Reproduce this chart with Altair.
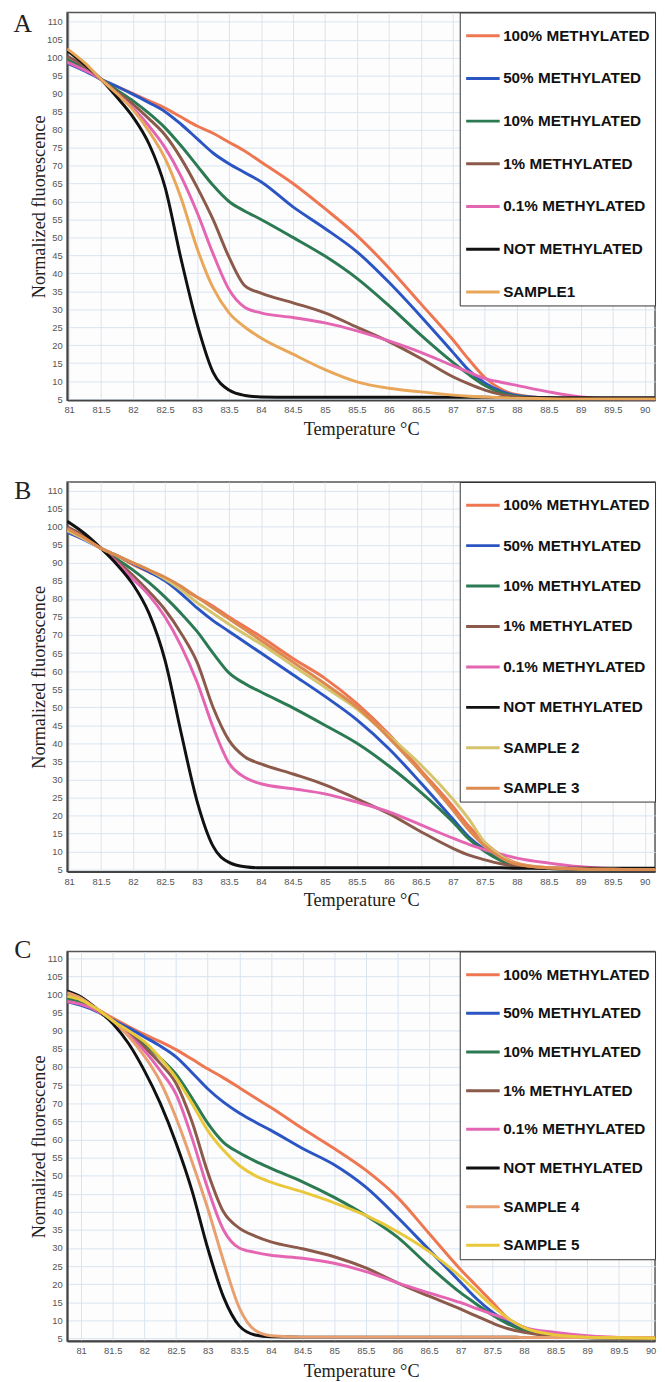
import altair as alt
import pandas as pd

# ---------------- data ----------------
X_AB = [80.97, 81.25, 81.5, 81.75, 82, 82.25, 82.5, 82.75, 83, 83.25, 83.5, 83.75, 84,
        84.5, 85, 85.5, 86, 86.5, 87, 87.25, 87.5, 87.75, 88, 88.5, 89, 89.5, 90, 90.16]
X_C = [80.78, 81, 81.25, 81.5, 81.75, 82, 82.25, 82.5, 82.75, 83, 83.25, 83.5, 83.75, 84,
       84.5, 85, 85.5, 86, 86.5, 87, 87.25, 87.5, 87.75, 88, 88.5, 89, 89.5, 90, 90.07]

X_TICKS = [81, 81.5, 82, 82.5, 83, 83.5, 84, 84.5, 85, 85.5, 86, 86.5, 87, 87.5, 88, 88.5, 89, 89.5, 90]
Y_TICKS = [5, 10, 15, 20, 25, 30, 35, 40, 45, 50, 55, 60, 65, 70, 75, 80, 85, 90, 95, 100, 105, 110]

BASE_NAMES = ["100% METHYLATED", "50% METHYLATED", "10% METHYLATED", "1% METHYLATED",
              "0.1% METHYLATED", "NOT METHYLATED"]
BASE_COLORS = ["#ee7752", "#2c55c4", "#2c7a52", "#8c5a4a", "#e466b2", "#111111"]

# Panel A
A_100 = [99.5, 97, 94, 92, 90, 88, 86, 83.5, 81, 79, 76.5, 74, 71, 65, 58, 50.5, 41.5, 31.5, 21.5, 16, 11, 7.8, 6.2, 5.3, 5.1, 5, 5, 5]
A_50 = [98.5, 96.3, 94, 92, 89.8, 87.5, 85, 81.5, 77.5, 73.5, 70.5, 68, 65.5, 58.5, 52.5, 46, 37.5, 28, 18, 13, 9.5, 7.2, 6, 5.3, 5.1, 5, 5, 5]
A_10 = [99.5, 96.8, 94, 91, 88, 84.5, 80.5, 75.5, 70, 64.5, 60, 57.3, 55, 50, 44.8, 38.6, 31, 22.8, 15.2, 11.8, 8.8, 6.8, 5.7, 5.2, 5.1, 5, 5, 5]
A_1 = [100.5, 97.5, 94, 90.5, 87, 83, 78.5, 72, 64, 55, 44.5, 36.5, 34.5, 31.8, 29, 25, 21, 16.3, 11.2, 9.2, 7.5, 6.3, 5.6, 5.2, 5.1, 5, 5, 5]
A_01 = [98.8, 96.5, 94, 90, 86, 81, 75, 67, 57, 45.5, 35.5, 30.5, 29, 27.7, 26.2, 24, 21.2, 18, 14.3, 12.5, 10.7, 9.7, 8.8, 7, 5.6, 5.1, 5, 5]
A_0 = [102, 98, 94, 89, 83.5, 76, 64, 44, 26, 12.5, 7.5, 6, 5.6, 5.5, 5.5, 5.5, 5.5, 5.5, 5.5, 5.5, 5.5, 5.4, 5.4, 5.4, 5.4, 5.4, 5.4, 5.4]
A_S1 = [102.5, 98.5, 94, 90, 85.5, 79.5, 72, 61, 47, 36, 29, 25, 22, 17.5, 13.2, 9.8, 8, 7, 6.1, 5.8, 5.6, 5.4, 5.3, 5.1, 5, 5, 5, 5]

# Panel B
B_100 = [98.5, 96.5, 94, 92, 89.5, 87.5, 85.5, 83, 80.5, 78, 75, 72.3, 69.5, 63.5, 58, 51, 42.5, 32.5, 22.5, 17, 12.5, 9, 6.8, 5.5, 5.2, 5.1, 5, 5]
B_50 = [98.5, 96.3, 94, 92, 89.8, 87.5, 85, 81.5, 77.5, 74, 71, 68, 65, 59, 53, 46.5, 38.5, 29, 19, 14, 10.5, 8, 6.4, 5.4, 5.1, 5, 5, 5]
B_10 = [99.5, 96.8, 94, 91, 88, 84.5, 80.5, 76, 71, 65, 59.5, 56.5, 54.2, 49.8, 45, 40, 33.7, 26.4, 18.2, 13.5, 10, 7.5, 5.9, 5.3, 5.1, 5, 5, 5]
B_1 = [100, 97.3, 94, 90.5, 86.5, 82, 77, 70.5, 62.5, 50, 40.8, 36.2, 34.3, 31.5, 28.5, 24.6, 20.5, 15.5, 10.9, 9, 7.7, 6.6, 5.9, 5.3, 5.1, 5, 5, 5]
B_01 = [99, 96.5, 94, 90, 85.5, 81, 75, 67, 57, 44.5, 34.5, 30.5, 28.8, 27.4, 26, 23.7, 21, 17.4, 13.7, 12, 10.5, 9.3, 8.2, 6.8, 5.8, 5.3, 5.1, 5]
B_0 = [101.5, 98, 94, 89.5, 84, 76, 63, 43, 24, 11.5, 7, 5.8, 5.5, 5.5, 5.5, 5.5, 5.5, 5.5, 5.5, 5.5, 5.5, 5.5, 5.4, 5.4, 5.4, 5.4, 5.4, 5.4]
B_S2 = [99, 96.5, 94, 92, 90, 88, 85.5, 82.5, 79, 76, 73, 70.2, 67.5, 61.5, 55.5, 49.5, 42, 34, 24.5, 19, 12.5, 8.8, 6.6, 5.5, 5.2, 5.1, 5, 5]
B_S3 = [99.5, 96.8, 94, 92, 90, 88, 86, 83.5, 80.5, 77.5, 74.5, 71.5, 68.5, 62.5, 56.5, 50, 41.5, 32, 21.5, 16, 11.5, 8.3, 6.5, 5.5, 5.2, 5.1, 5, 5]

# Panel C
C_100 = [98.8, 98, 96, 93.5, 91.2, 89, 87, 84.8, 82.2, 79.5, 77, 74.3, 71.5, 68.8, 63, 57.5, 51.5, 44, 34, 24, 19.5, 15, 10.5, 8.1, 6.3, 5.6, 5.3, 5.2, 5.2]
C_50 = [98, 97, 95.3, 93, 90.8, 88.3, 85.8, 82.8, 78.5, 74, 70.3, 67.3, 64.8, 62.5, 57.5, 53, 46.8, 38.5, 29.5, 20.5, 16, 12.3, 9.5, 7.6, 6, 5.4, 5.2, 5.1, 5.1]
C_10 = [99, 98, 95.6, 92.5, 89.5, 86.3, 82.5, 78, 71.5, 64.5, 59.2, 56.3, 54, 52, 48.3, 44, 39, 33, 25, 17.6, 14.5, 11.5, 9, 7.2, 5.8, 5.3, 5.1, 5, 5]
C_1 = [99.5, 98.5, 96, 92.8, 89.3, 85.5, 81, 75.5, 65, 51, 40, 35.5, 33.3, 31.7, 29.8, 27.6, 24.5, 20.4, 16.7, 13.1, 11.2, 9.3, 7.7, 6.7, 5.6, 5.2, 5.1, 5, 5]
C_01 = [98, 97.3, 95.5, 92.5, 88.8, 84.5, 79, 72.5, 60.5, 46.5, 35, 30, 28.8, 28, 27.2, 25.8, 23.5, 20.4, 17.6, 14.9, 13.3, 11.7, 10.3, 8.1, 6.7, 5.8, 5.3, 5.2, 5.2]
C_0 = [101, 99.3, 96, 92, 86.5, 79, 70, 59, 46, 30, 16.5, 8.5, 6, 5.5, 5.4, 5.4, 5.4, 5.4, 5.4, 5.4, 5.4, 5.4, 5.4, 5.3, 5.3, 5.3, 5.3, 5.3, 5.3]
C_S4 = [100.5, 99, 96, 92.8, 88.5, 83, 76, 66, 54, 41, 26.5, 13.5, 7.3, 5.8, 5.4, 5.4, 5.4, 5.4, 5.4, 5.4, 5.4, 5.4, 5.4, 5.3, 5.3, 5.3, 5.3, 5.3, 5.3]
C_S5 = [99.5, 98.5, 96, 92.8, 90, 87, 82.5, 77, 70, 62.5, 57, 52.8, 50, 48.2, 45.5, 42.5, 39, 34.5, 29, 22, 18, 14, 10.5, 8, 6, 5.4, 5.2, 5.1, 5.1]

PANEL_LETTERS = ["A", "B", "C"]

SERIF = "Liberation Serif"
SANS = "Liberation Sans"
NARROW = "Liberation Sans Narrow, Liberation Sans, Arial, sans-serif"


def panel(letter, xs, names, series, colors, height, xdom, ydom, row_pad, letter_y, x_title_pad):
    rows = []
    for n, vals in zip(names, series):
        for x, v in zip(xs, vals):
            rows.append({"temp": x, "fluor": v, "series": n})
    df = pd.DataFrame(rows)
    lines = alt.Chart(df).mark_line(interpolate="monotone", strokeWidth=3, clip=True).encode(
        x=alt.X("temp:Q",
                scale=alt.Scale(domain=xdom, nice=False, zero=False),
                axis=alt.Axis(values=X_TICKS, format=".1~f", title="Temperature °C",
                              labelFlush=False, titlePadding=x_title_pad)),
        y=alt.Y("fluor:Q",
                scale=alt.Scale(domain=ydom, nice=False, zero=False),
                axis=alt.Axis(values=Y_TICKS, format="d", title="Normalized fluorescence",
                              labelFlush=False)),
        color=alt.Color("series:N",
                        scale=alt.Scale(domain=names, range=colors),
                        sort=names,
                        legend=alt.Legend(title=None, orient="top-right", offset=0, padding=5,
                                          fillColor="white", strokeColor="#333",
                                          symbolType="stroke", symbolSize=1156,
                                          symbolStrokeWidth=3, labelFont=SANS,
                                          labelFontSize=15.5, labelFontWeight="bold",
                                          labelColor="#111", rowPadding=row_pad,
                                          labelOffset=2, labelLimit=400)),
    )
    letter_layer = alt.Chart(pd.DataFrame({"letter": [letter]})).mark_text(
        font=SERIF, fontSize=26, align="center", baseline="middle", color="#222"
    ).encode(text="letter:N", x=alt.value(-45), y=alt.value(letter_y))
    return alt.layer(lines, letter_layer).properties(width=596, height=height)


pA = panel(PANEL_LETTERS[0], X_AB, BASE_NAMES + ["SAMPLE1"],
           [A_100, A_50, A_10, A_1, A_01, A_0, A_S1],
           BASE_COLORS + ["#e9a75a"], 393, [80.97, 90.16], [4.7, 112.6], 16.3, 12, 5)
pB = panel(PANEL_LETTERS[1], X_AB, BASE_NAMES + ["SAMPLE 2", "SAMPLE 3"],
           [B_100, B_50, B_10, B_1, B_01, B_0, B_S2, B_S3],
           BASE_COLORS + ["#d6c46c", "#dc8a50"], 395, [80.97, 90.16], [4.45, 112.4], 14, 9.5, 5)
pC = panel(PANEL_LETTERS[2], X_C, BASE_NAMES + ["SAMPLE 4", "SAMPLE 5"],
           [C_100, C_50, C_10, C_1, C_01, C_0, C_S4, C_S5],
           BASE_COLORS + ["#e8a070", "#e9c83c"], 395, [80.78, 90.07], [4.3, 111.9], 12.2, -1, 6)

top = alt.vconcat(pA, pB, spacing=39).resolve_scale(color="independent")
chart = alt.vconcat(top, pC, spacing=27).resolve_scale(color="independent").properties(
    padding={"left": 4, "top": -7, "right": 0, "bottom": 0},
    background="white",
).configure_view(
    stroke="#555", strokeWidth=1.5, fill="#fdfdfe"
).configure_axis(
    grid=True, gridColor="#d9e4ee", gridWidth=1,
    domain=True, domainColor="#444", domainWidth=2,
    ticks=False, labelFont=NARROW, labelFontSize=9.5, labelColor="#555",
    titleFont=SERIF, titleFontSize=18.5, titleFontWeight="normal", titleColor="#222",
).configure_axisX(
    labelPadding=5
).configure_axisY(
    labelPadding=5, titlePadding=-2
)

chart.save("out.html", embed_options={"renderer": "svg", "actions": False})
